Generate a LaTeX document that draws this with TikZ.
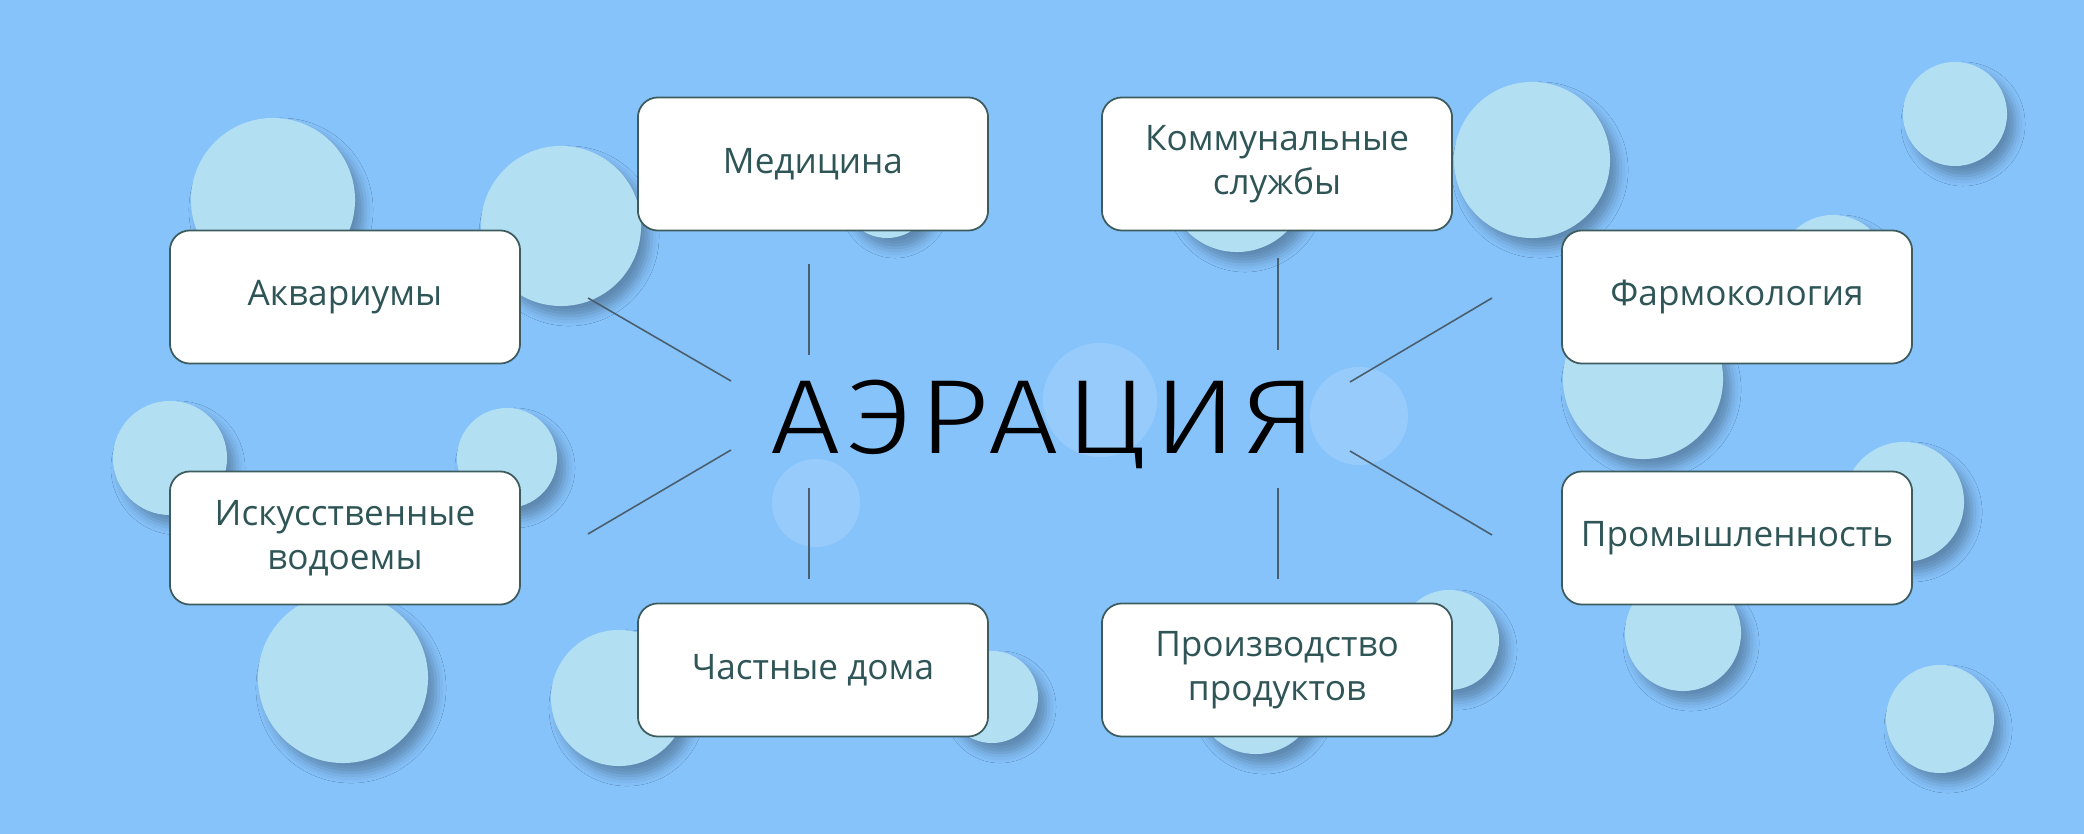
\documentclass[tikz,border=0pt]{standalone}
\usepackage{fontspec}
\setmainfont{Open Sans}
\newfontfamily\titlefont{Fira Sans Light}[LetterSpace=5]
\usetikzlibrary{positioning,shadows.blur}

\definecolor{skyback}{HTML}{86C3FB}
\definecolor{bubble}{HTML}{B3DFF3}
\definecolor{boxline}{HTML}{3E5C5E}
\definecolor{boxtext}{HTML}{2F5557}
\definecolor{spokeline}{HTML}{4A5E6E}

\tikzset{
    field/.style={draw=boxline, line width=0.5pt, fill=white, rounded corners=0.2cm,
        minimum width=3.5cm, minimum height=1.33cm, align=center, text=boxtext,
        font=\fontsize{10}{12.5}\selectfont},
    bubblefill/.style={fill=bubble, blur shadow={shadow xshift=0.08cm, shadow yshift=-0.1cm,
        shadow blur radius=0.1cm, shadow opacity=30}},
    ghost/.style={fill=white, fill opacity=0.14},
    spoke/.style={draw=spokeline, line width=0.45pt}
}

\begin{document}
\begin{tikzpicture}[x=0.01cm, y=-0.01cm]
    \useasboundingbox (0,0) rectangle (2084,834);
    \fill[skyback] (0,0) rectangle (2084,834);

    % Bubbles
    \foreach \cx/\cy/\r in {273/200/0.82, 561/226/0.80, 887/193/0.45, 170/458/0.57,
        507/458/0.50, 343/678/0.85, 619/698/0.68, 992/697/0.46, 1532/160/0.78,
        1955/114/0.52, 1237/182/0.70, 1833/270/0.55, 1643/379/0.80, 1904/502/0.60,
        1683/633/0.58, 1940/719/0.54, 1449/640/0.50, 1256/692/0.62}
        \path[bubblefill] (\cx,\cy) circle[radius=\r cm];

    % Faint bubbles
    \foreach \cx/\cy/\r in {816/503/0.44, 1100/400/0.57, 1359/416/0.49}
        \path[ghost] (\cx,\cy) circle[radius=\r cm];

    % Boxes
    \node[field] (med) at (813,164) {Медицина};
    \node[field] (komm) at (1277,164) {Коммунальные\\службы};
    \node[field] (aqua) at (345,297) {Аквариумы};
    \node[field] (farm) at (1737,297) {Фармокология};
    \node[field] (iskus) at (345,538) {Искусственные\\водоемы};
    \node[field] (prom) at (1737,538) {Промышленность};
    \node[field] (chast) at (813,670) {Частные дома};
    \node[field] (proizv) at (1277,670) {Производство\\продуктов};

    \node[anchor=base, inner sep=0pt, xscale=1.18, transform shape,
        font=\titlefont\fontsize{30}{30}\selectfont] (hub) at (1044,454) {АЭРАЦИЯ};

    % Spokes
    \coordinate (med-a) at (809,264);    \coordinate (med-b) at (809,355);
    \coordinate (komm-a) at (1278,258);  \coordinate (komm-b) at (1278,350);
    \coordinate (aqua-a) at (588,298);   \coordinate (aqua-b) at (731,381);
    \coordinate (farm-a) at (1492,298);  \coordinate (farm-b) at (1350,382);
    \coordinate (iskus-a) at (588,534);  \coordinate (iskus-b) at (731,450);
    \coordinate (prom-a) at (1492,535);  \coordinate (prom-b) at (1350,451);
    \coordinate (chast-a) at (809,579);  \coordinate (chast-b) at (809,488);
    \coordinate (proizv-a) at (1278,579); \coordinate (proizv-b) at (1278,488);
    \foreach \n in {med,komm,aqua,farm,iskus,prom,chast,proizv}
        \draw[spoke] (\n-a) -- (\n-b);
\end{tikzpicture}
\end{document}
